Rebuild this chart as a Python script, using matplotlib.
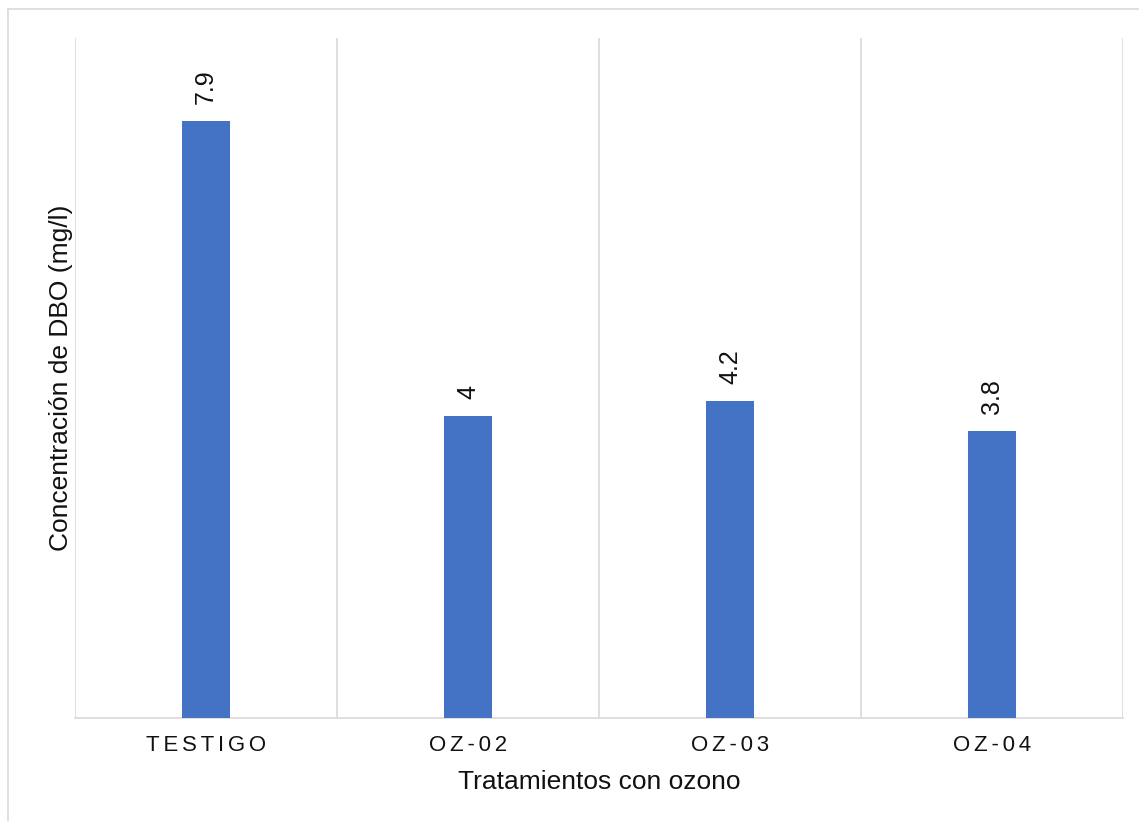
import matplotlib
matplotlib.use("Agg")
import matplotlib.pyplot as plt
from matplotlib.lines import Line2D
import numpy as np

categories = ["TESTIGO", "OZ-02", "OZ-03", "OZ-04"]
values = [7.9, 4, 4.2, 3.8]
value_labels = ["7.9", "4", "4.2", "3.8"]
x_title = "Tratamientos con ozono"
y_title = "Concentración de DBO (mg/l)"

plt.rcParams['font.family'] = ['Liberation Sans', 'DejaVu Sans']

W, H = 1139, 821
fig = plt.figure(figsize=(W / 100, H / 100), dpi=100)
ax = fig.add_axes([75 / W, 1 - 718 / H, (1123 - 75) / W, (718 - 38) / H])

x = np.arange(len(categories))
bar_color = "#4472C4"
grid_color = "#d9d9d9"
ax.bar(x, values, width=0.183, color=bar_color, zorder=3)

ax.set_xlim(-0.5, len(categories) - 0.5)
ax.set_ylim(0, 9)
ax.set_yticks([])

# category separators
ax.set_xticks(np.arange(-0.5, len(categories), 1.0), minor=True)
ax.grid(True, axis='x', which='minor', color=grid_color, linewidth=1.2, zorder=0)
ax.tick_params(axis='x', which='minor', length=0)

spaced = ["\u2006".join(c) for c in categories]
ax.set_xticks(x)
ax.set_xticklabels(spaced, fontsize=16, color="#111111")
ax.tick_params(axis='x', which='major', length=0, pad=12)

for s in ["top", "right", "left"]:
    ax.spines[s].set_visible(False)
ax.spines["bottom"].set_color(grid_color)
ax.spines["bottom"].set_linewidth(1.2)

for xi, v, lab in zip(x, values, value_labels):
    ax.annotate(lab, (xi, v), xytext=(0, 12), textcoords="offset points",
                rotation=90, ha="center", va="bottom", fontsize=18, color="#111111")

ax.set_xlabel(x_title, fontsize=19, labelpad=10, color="#111111")
ax.set_ylabel(y_title, fontsize=19, labelpad=1.5, color="#111111")

# outer border (partially cropped in the reference)
fig.add_artist(Line2D([8 / W, 1.0], [1 - 9 / H, 1 - 9 / H], transform=fig.transFigure,
                      color=grid_color, linewidth=1.2))
fig.add_artist(Line2D([8 / W, 8 / W], [0, 1 - 9 / H], transform=fig.transFigure,
                      color=grid_color, linewidth=1.2))

fig.savefig("out.png", dpi=100, facecolor="white")
